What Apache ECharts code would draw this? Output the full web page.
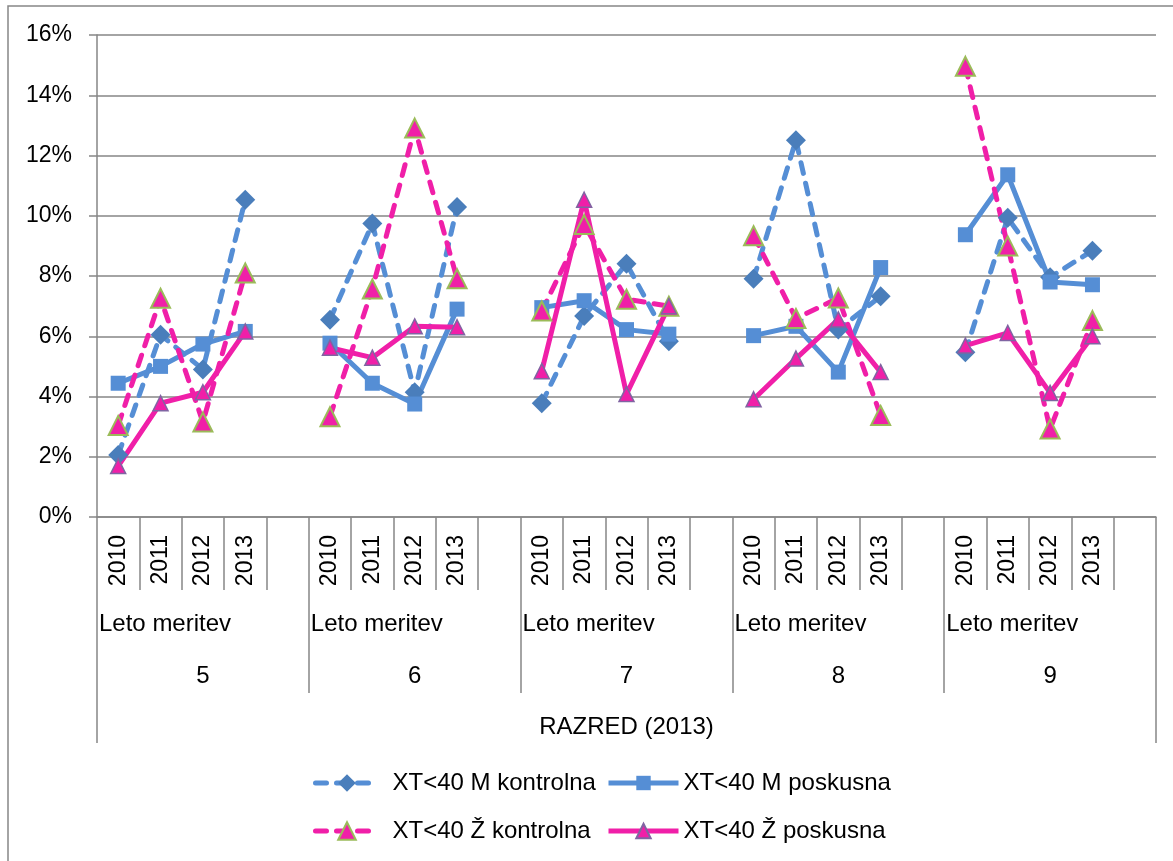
<!DOCTYPE html>
<html>
<head>
<meta charset="utf-8">
<script src="https://cdn.jsdelivr.net/npm/echarts@6/dist/echarts.min.js"></script>
<style>
html,body{margin:0;padding:0;background:#fff;}
#chart{width:1173px;height:861px;}
</style>
</head>
<body>
<div id="chart"></div>
<script>
// ---- data (percent) ----
const grades = ['5', '6', '7', '8', '9'];
const years = ['2010', '2011', '2012', '2013'];
const groupLabel = 'Leto meritev';
const axisTitle = 'RAZRED (2013)';
const seriesNames = ['XT<40 M kontrolna', 'XT<40 M poskusna', 'XT<40 Ž kontrolna', 'XT<40 Ž poskusna'];

const mKontrolna = [
  [2.06, 6.05, 4.90, 10.53],
  [6.55, 9.74, 4.14, 10.29],
  [3.78, 6.67, 8.41, 5.83],
  [7.91, 12.51, 6.22, 7.33],
  [5.47, 9.93, 7.96, 8.84]
];
const mPoskusna = [
  [4.44, 5.00, 5.74, 6.16],
  [5.77, 4.44, 3.75, 6.90],
  [6.95, 7.18, 6.22, 6.07],
  [6.02, 6.33, 4.81, 8.28],
  [9.37, 11.36, 7.80, 7.71]
];
const zKontrolna = [
  [3.04, 7.26, 3.15, 8.10],
  [3.33, 7.57, 12.91, 7.91],
  [6.84, 9.71, 7.23, 7.00],
  [9.34, 6.59, 7.27, 3.37],
  [14.96, 9.00, 2.92, 6.52]
];
const zPoskusna = [
  [1.69, 3.78, 4.14, 6.16],
  [5.62, 5.29, 6.33, 6.30],
  [4.84, 10.53, 4.08, 7.00],
  [3.91, 5.26, 6.56, 4.81],
  [5.69, 6.11, 4.12, 6.00]
];

// ---- build flat category list: 4 years + 1 blank slot per grade ----
const yearCats = [];
grades.forEach(() => { years.forEach(y => yearCats.push(y)); yearCats.push(''); });
const flat = (groups) => {
  const out = [];
  groups.forEach(g => { g.forEach(v => out.push(v)); out.push(null); });
  return out;
};
const groupLabelCats = [];
for (let i = 0; i <= yearCats.length; i++) {
  groupLabelCats.push(i % (years.length + 1) === 0 && i < yearCats.length ? groupLabel : '');
}

const FONT = 'Liberation Sans';
const GRAY = '#868686';
const BLUE = '#558ED5';
const BLUE_DARK = '#4A7EBB';
const PINK = '#F01FA8';
const GREEN = '#9BBB59';
const PURPLE = '#8064A2';
const DASH = [11, 10];
const LW = 5;

const chart = echarts.init(document.getElementById('chart'), null, {renderer: 'canvas'});
chart.setOption({
  animation: false,
  backgroundColor: '#fff',
  textStyle: {fontFamily: FONT},
  graphic: [{
    type: 'rect',
    shape: {x: 8, y: 6, width: 1400, height: 1000},
    style: {fill: 'none', stroke: GRAY, lineWidth: 1.5},
    silent: true,
    z: -10
  }],
  grid: {left: 97, right: 17, top: 35, bottom: 344, containLabel: false},
  legend: [
    {
      orient: 'vertical', left: 313, top: 771, padding: 0,
      itemWidth: 63, itemHeight: 22, itemGap: 24,
      data: [seriesNames[0], seriesNames[2]],
      lineStyle: {width: LW},
      textStyle: {fontSize: 24, color: '#000', fontFamily: FONT, padding: [0, 0, 0, 9]}
    },
    {
      orient: 'vertical', left: 606, top: 771, padding: 0,
      itemWidth: 70, itemHeight: 18, itemGap: 24,
      data: [seriesNames[1], seriesNames[3]],
      lineStyle: {width: LW},
      textStyle: {fontSize: 24, color: '#000', fontFamily: FONT, padding: [0, 0, 0, 0]}
    }
  ],
  xAxis: [
    {
      type: 'category', position: 'bottom', data: yearCats, boundaryGap: true,
      axisLine: {show: true, lineStyle: {color: GRAY, width: 1.5}},
      axisTick: {show: true, interval: 0, length: 73, lineStyle: {color: GRAY, width: 1.5}},
      axisLabel: {interval: 0, rotate: 90, margin: 18, fontSize: 23, color: '#000', fontFamily: FONT}
    },
    {
      type: 'category', position: 'bottom', data: groupLabelCats, boundaryGap: false,
      axisLine: {show: false}, axisTick: {show: false},
      axisLabel: {interval: 0, align: 'left', margin: 95, fontSize: 24, color: '#000', fontFamily: FONT, padding: [0, 0, 0, 2]}
    },
    {
      type: 'category', position: 'bottom', data: grades, boundaryGap: true,
      axisLine: {show: false},
      axisTick: {show: true, interval: 0, length: 176, lineStyle: {color: GRAY, width: 1.5}},
      axisLabel: {interval: 0, margin: 147, fontSize: 24, color: '#000', fontFamily: FONT}
    },
    {
      type: 'category', position: 'bottom', data: [axisTitle], boundaryGap: true,
      axisLine: {show: false},
      axisTick: {show: true, interval: 0, length: 226, lineStyle: {color: GRAY, width: 1.5}},
      axisLabel: {interval: 0, margin: 198, fontSize: 24, color: '#000', fontFamily: FONT}
    }
  ],
  yAxis: {
    type: 'value', min: 0, max: 16, interval: 2,
    axisLine: {show: true, lineStyle: {color: GRAY, width: 1.5}},
    axisTick: {show: true, length: 8, lineStyle: {color: GRAY, width: 1.5}},
    axisLabel: {formatter: '{value}%', margin: 25, fontSize: 23, color: '#000', fontFamily: FONT},
    splitLine: {show: true, lineStyle: {color: GRAY, width: 1.5}}
  },
  series: [
    {
      name: seriesNames[0], type: 'line', xAxisIndex: 0, data: flat(mKontrolna),
      symbol: 'diamond', symbolSize: 20, showAllSymbol: true,
      lineStyle: {color: BLUE, width: LW, type: DASH, cap: 'round'},
      itemStyle: {color: BLUE_DARK}
    },
    {
      name: seriesNames[1], type: 'line', xAxisIndex: 0, data: flat(mPoskusna),
      symbol: 'rect', symbolSize: 15, showAllSymbol: true,
      lineStyle: {color: BLUE, width: LW},
      itemStyle: {color: BLUE}
    },
    {
      name: seriesNames[2], type: 'line', xAxisIndex: 0, data: flat(zKontrolna),
      symbol: 'triangle', symbolSize: 19, showAllSymbol: true,
      lineStyle: {color: PINK, width: LW, type: DASH, cap: 'round'},
      itemStyle: {color: PINK, borderColor: GREEN, borderWidth: 2}
    },
    {
      name: seriesNames[3], type: 'line', xAxisIndex: 0, data: flat(zPoskusna),
      symbol: 'triangle', symbolSize: 15, showAllSymbol: true,
      lineStyle: {color: PINK, width: LW},
      itemStyle: {color: PINK, borderColor: PURPLE, borderWidth: 1.5}
    }
  ]
});
</script>
</body>
</html>
